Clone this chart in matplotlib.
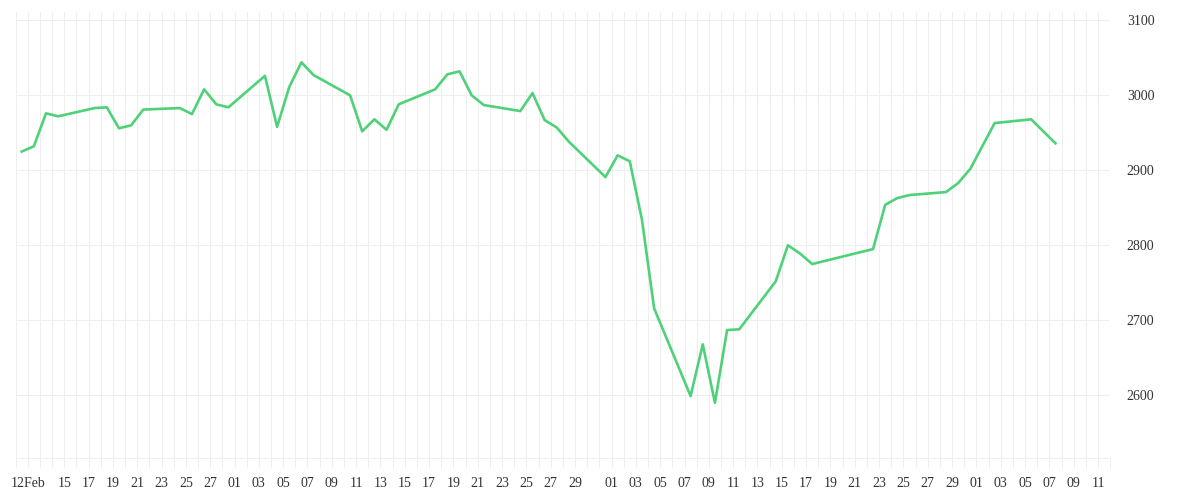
import matplotlib
matplotlib.use('agg')
import matplotlib.pyplot as plt
import matplotlib.dates as mdates
import pandas as pd

# daily closes
dates = [
    "2025-02-11", "2025-02-12", "2025-02-13", "2025-02-14", "2025-02-17",
    "2025-02-18", "2025-02-19", "2025-02-20", "2025-02-21", "2025-02-24",
    "2025-02-25", "2025-02-26", "2025-02-27", "2025-02-28", "2025-03-03",
    "2025-03-04", "2025-03-05", "2025-03-06", "2025-03-07", "2025-03-10",
    "2025-03-11", "2025-03-12", "2025-03-13", "2025-03-14", "2025-03-17",
    "2025-03-18", "2025-03-19", "2025-03-20", "2025-03-21", "2025-03-24",
    "2025-03-25", "2025-03-26", "2025-03-27", "2025-03-28", "2025-03-31",
    "2025-04-01", "2025-04-02", "2025-04-03", "2025-04-04", "2025-04-07",
    "2025-04-08", "2025-04-09", "2025-04-10", "2025-04-11", "2025-04-14",
    "2025-04-15", "2025-04-16", "2025-04-17", "2025-04-22", "2025-04-23",
    "2025-04-24", "2025-04-25", "2025-04-28", "2025-04-29", "2025-04-30",
    "2025-05-02", "2025-05-05", "2025-05-06", "2025-05-07",
]
closes = [
    2925, 2932, 2976, 2972, 2983,
    2984, 2956, 2960, 2981, 2983,
    2975, 3008, 2988, 2984, 3026,
    2958, 3011, 3044, 3027, 3000,
    2952, 2968, 2954, 2988, 3008,
    3028, 3032, 3000, 2987, 2979,
    3003, 2967, 2957, 2938, 2891,
    2920, 2912, 2834, 2716, 2599,
    2668, 2590, 2687, 2688, 2752,
    2800, 2789, 2775, 2795, 2854,
    2863, 2867, 2871, 2883, 2902,
    2963, 2968, 2952, 2936,
]
y_ticks = [2600, 2700, 2800, 2900, 3000, 3100]

grid_col = '#efefef'
text_col = '#333333'
font = ['Liberation Serif', 'DejaVu Serif']

# points sit mid-day between the daily grid lines
t = pd.to_datetime(dates) + pd.Timedelta(hours=12)

fig = plt.figure(figsize=(12, 5), dpi=100)
ax = fig.add_axes([15.6 / 1200, 42 / 500, (1110.2 - 15.6) / 1200, (458 - 12) / 500])

ax.plot(t, closes, color='#4fd17a', lw=1.9, zorder=3)

ax.set_xlim(pd.Timestamp("2025-02-11"), pd.Timestamp("2025-05-12"))
ax.set_ylim(2516.4, 3111.1)

# labels: first date with month, then odd days (no 31st)
tick_days = [pd.Timestamp("2025-02-12")]
for d in pd.date_range("2025-02-15", "2025-05-11"):
    if d.day % 2 == 1 and d.day != 31:
        tick_days.append(d)
ax.set_xticks(tick_days)
ax.set_xticklabels(["12Feb" if i == 0 else d.strftime("%d") for i, d in enumerate(tick_days)])
ax.xaxis.set_minor_locator(mdates.DayLocator())

ax.yaxis.tick_right()
ax.set_yticks(y_ticks)

ax.grid(axis='x', which='both', color=grid_col, lw=0.8)
ax.grid(axis='y', which='major', color=grid_col, lw=0.8)
ax.set_axisbelow(True)

ax.tick_params(axis='x', which='both', length=7.5, width=0.8, color=grid_col,
               pad=6, labelsize=10, labelcolor=text_col)
ax.tick_params(axis='y', length=0, pad=12, labelsize=10, labelcolor=text_col)
for lab in ax.get_xticklabels() + ax.get_yticklabels():
    lab.set_family(font)

for s in ['left', 'top', 'right']:
    ax.spines[s].set_visible(False)
ax.spines['bottom'].set_color(grid_col)
ax.spines['bottom'].set_linewidth(0.8)

fig.savefig('out.png', dpi=100, facecolor='white')
